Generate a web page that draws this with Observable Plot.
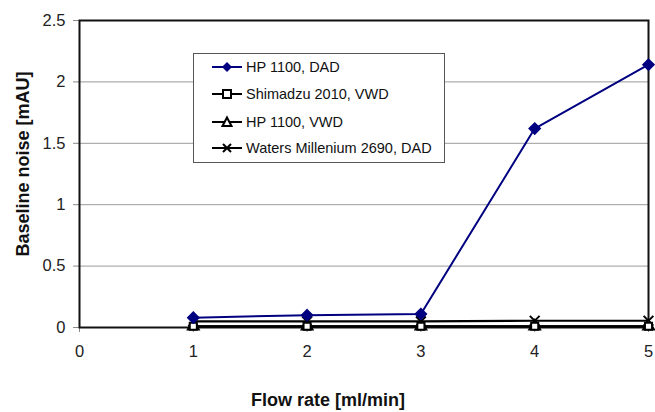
<!DOCTYPE html>
<html>
<head>
<meta charset="utf-8">
<script src="https://cdn.jsdelivr.net/npm/d3@7"></script>
<script src="https://cdn.jsdelivr.net/npm/@observablehq/plot@0.6"></script>
<style>
  body { margin: 0; background: #fff; font-family: "Liberation Sans", Arial, sans-serif; }
  #wrap { position: relative; width: 655px; height: 412px; }
  #legend { position: absolute; left: 193px; top: 53px; width: 252px; height: 110px;
            border: 1px solid #555; background: #fff; box-sizing: border-box; }
  .row { position: absolute; left: 17px; height: 16px; display: flex; align-items: center;
         font-size: 14.5px; color: #111; white-space: nowrap; }
  .row svg { margin-right: 3px; }
</style>
</head>
<body>
<div id="wrap"></div>
<script>
const flowRates = [1, 2, 3, 4, 5];
const hpDad = [0.08, 0.10, 0.11, 1.62, 2.14];
const shimadzuVwd = [0.01, 0.01, 0.01, 0.01, 0.01];
const hpVwd = [0.01, 0.01, 0.01, 0.01, 0.01];
const watersDad = [0.05, 0.05, 0.05, 0.055, 0.055];
const seriesNames = ["HP 1100, DAD", "Shimadzu 2010, VWD", "HP 1100, VWD", "Waters Millenium 2690, DAD"];
const xTicks = [0, 1, 2, 3, 4, 5];
const yTicks = [0, 0.5, 1, 1.5, 2, 2.5];
const gridValues = [0.5, 1, 1.5, 2];
const xLabel = "Flow rate [ml/min]";
const yLabel = "Baseline noise [mAU]";

const toRows = (vals) => flowRates.map((x, i) => ({x, y: vals[i]}));
const dDad = toRows(hpDad), dShim = toRows(shimadzuVwd), dHpV = toRows(hpVwd), dWat = toRows(watersDad);

const chart = Plot.plot({
  width: 655, height: 412,
  marginLeft: 79, marginRight: 7, marginTop: 20, marginBottom: 85,
  style: {fontFamily: "'Liberation Sans', Arial, sans-serif", background: "#fff"},
  x: {domain: [0, 5]},
  y: {domain: [0, 2.5]},
  marks: [
    Plot.ruleY(gridValues, {stroke: "#9a9a9a", strokeWidth: 1}),
    Plot.axisX(xTicks, {tickSize: 5, tickPadding: 13, fontSize: 16.5, color: "#222", stroke: "#888", label: null, tickFormat: d => String(d)}),
    Plot.axisY(yTicks, {tickSize: 6, tickPadding: 8, fontSize: 16.5, color: "#222", stroke: "#888", label: null, tickFormat: d => String(d)}),
    Plot.frame({stroke: "#111", strokeWidth: 2}),
    Plot.line(dWat, {x: "x", y: "y", stroke: "#000", strokeWidth: 2.2}),
    Plot.line(dHpV, {x: "x", y: "y", stroke: "#000", strokeWidth: 2.2}),
    Plot.line(dShim, {x: "x", y: "y", stroke: "#000", strokeWidth: 2.2}),
    Plot.dot(dWat, {x: "x", y: "y", symbol: "times", r: 4.5, stroke: "#000", strokeWidth: 2}),
    Plot.dot(dHpV, {x: "x", y: "y", symbol: "triangle", r: 4, fill: "#fff", stroke: "#000", strokeWidth: 2}),
    Plot.dot(dShim, {x: "x", y: "y", symbol: "square", r: 4, fill: "#fff", stroke: "#000", strokeWidth: 2}),
    Plot.line(dDad, {x: "x", y: "y", stroke: "#000080", strokeWidth: 2}),
    Plot.dot(dDad, {x: "x", y: "y", symbol: "diamond2", r: 5, fill: "#000080", stroke: "#000080"}),
    Plot.text([xLabel], {frameAnchor: "bottom", textAnchor: "middle", dx: -36, dy: 78, fontSize: 18, fontWeight: "bold", fill: "#111"}),
    Plot.text([yLabel], {frameAnchor: "left", textAnchor: "middle", rotate: -90, dx: -56, dy: -10, fontSize: 18, fontWeight: "bold", fill: "#111"})
  ]
});
const wrap = document.getElementById("wrap");
wrap.appendChild(chart);

// legend
const legend = document.createElement("div");
legend.id = "legend";
const sym = [
  '<line x1="1" y1="7" x2="31" y2="7" stroke="#000080" stroke-width="2"/><path d="M16 2 L21 7 L16 12 L11 7 Z" fill="#000080"/>',
  '<line x1="1" y1="7" x2="31" y2="7" stroke="#000" stroke-width="2"/><rect x="12" y="3" width="8" height="8" fill="#fff" stroke="#000" stroke-width="2"/>',
  '<line x1="1" y1="7" x2="31" y2="7" stroke="#000" stroke-width="2"/><path d="M16 2.5 L20.5 11 L11.5 11 Z" fill="#fff" stroke="#000" stroke-width="2"/>',
  '<line x1="1" y1="7" x2="31" y2="7" stroke="#000" stroke-width="2"/><path d="M12 3 L20 11 M20 3 L12 11" stroke="#000" stroke-width="2"/>'
];
const rowTops = [5, 32, 60, 86];
seriesNames.forEach((name, i) => {
  const r = document.createElement("div");
  r.className = "row";
  r.style.top = rowTops[i] + "px";
  r.innerHTML = '<svg width="32" height="14">' + sym[i] + '</svg><span>' + name + '</span>';
  legend.appendChild(r);
});
wrap.appendChild(legend);
</script>
</body>
</html>
